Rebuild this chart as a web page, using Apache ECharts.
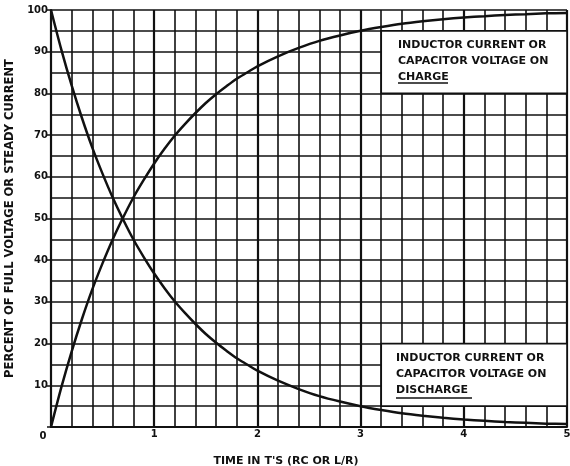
<!DOCTYPE html>
<html><head><meta charset="utf-8">
<script src="https://cdn.jsdelivr.net/npm/echarts@6/dist/echarts.min.js"></script>
<style>html,body{margin:0;padding:0;background:#fff}#c{width:570px;height:466px}</style>
</head><body><div id="c"></div>
<script>
const timeValues = [0,0.1,0.2,0.3,0.4,0.5,0.6,0.7,0.8,0.9,1.0,1.1,1.2,1.3,1.4,1.5,1.6,1.7,1.8,1.9,2.0,2.2,2.4,2.6,2.8,3.0,3.2,3.4,3.6,3.8,4.0,4.2,4.4,4.6,4.8,5.0];
const chargeValues = [0,9.5,18.1,25.9,33.0,39.3,45.1,50.3,55.1,59.3,63.2,66.7,69.9,72.7,75.3,77.7,79.8,81.7,83.5,85.0,86.5,88.9,90.9,92.6,93.9,95.0,95.9,96.7,97.3,97.8,98.2,98.5,98.8,99.0,99.2,99.3];
const dischargeValues = [100,90.5,81.9,74.1,67.0,60.7,54.9,49.7,44.9,40.7,36.8,33.3,30.1,27.3,24.7,22.3,20.2,18.3,16.5,15.0,13.5,11.1,9.1,7.4,6.1,5.0,4.1,3.3,2.7,2.2,1.8,1.5,1.2,1.0,0.8,0.7];
const xTickLabels = ['0','1','2','3','4','5'];
const yTickLabels = ['','10','20','30','40','50','60','70','80','90','100'];
const chargeLabel = ['INDUCTOR CURRENT OR','CAPACITOR VOLTAGE ON','CHARGE'];
const dischargeLabel = ['INDUCTOR CURRENT OR','CAPACITOR VOLTAGE ON','DISCHARGE'];
const xName = "TIME IN T'S (RC OR L/R)";
const yName = 'PERCENT OF FULL VOLTAGE OR STEADY CURRENT';

const FONT = 'DejaVu Sans';
const INK = '#111';
const chart = echarts.init(document.getElementById('c'), null, {renderer:'canvas'});
const pair = (vals) => timeValues.map((t,i) => [t, vals[i]]);
const gridLine = {show:true, lineStyle:{color:INK, width:1.6}};
chart.setOption({
  animation:false,
  backgroundColor:'#fff',
  grid:{left:51, right:3, top:10, bottom:39, containLabel:false, outerBoundsMode:'none'},
  xAxis:{
    type:'value', min:0, max:5, interval:1,
    name:xName, nameLocation:'middle', nameGap:29,
    nameTextStyle:{fontFamily:FONT, fontWeight:'bold', fontSize:11, color:INK, padding:[0,46,0,0]},
    axisLine:{show:true, lineStyle:{color:INK, width:2}},
    axisTick:{show:false},
    axisLabel:{margin:2, fontFamily:FONT, fontWeight:'bold', fontSize:10, color:INK,
      formatter:(v)=>{const s = xTickLabels[Math.round(v)]; return v===0 ? '{z|'+s+'}' : s;},
      rich:{z:{fontFamily:FONT, fontWeight:'bold', fontSize:10, color:INK, padding:[2,16,0,0]}}},
    splitLine:{show:true, lineStyle:{color:INK, width:2.2}},
    minorTick:{show:false, splitNumber:5},
    minorSplitLine:gridLine
  },
  yAxis:{
    type:'value', min:0, max:100, interval:10,
    name:yName, nameLocation:'middle', nameGap:33,
    nameTextStyle:{fontFamily:FONT, fontWeight:'bold', fontSize:11.5, color:INK},
    axisLine:{show:true, lineStyle:{color:INK, width:2}},
    axisTick:{show:true, length:4, lineStyle:{color:INK, width:1.5}},
    axisLabel:{margin:3, fontFamily:FONT, fontWeight:'bold', fontSize:10, color:INK,
      formatter:(v)=>yTickLabels[Math.round(v/10)]},
    splitLine:gridLine,
    minorTick:{show:false, splitNumber:2},
    minorSplitLine:gridLine
  },
  series:[
    {type:'line', name:'charge', data:pair(chargeValues), smooth:0.3, symbol:'none',
     lineStyle:{color:INK, width:2.5}, z:5,
     markArea:{silent:true, itemStyle:{color:'#fff', borderColor:INK, borderWidth:1.6, opacity:1},
       data:[[{xAxis:3.2, yAxis:95},{xAxis:5, yAxis:80}]]}},
    {type:'line', name:'discharge', data:pair(dischargeValues), smooth:0.3, symbol:'none',
     lineStyle:{color:INK, width:2.5}, z:5,
     markArea:{silent:true, itemStyle:{color:'#fff', borderColor:INK, borderWidth:1.6, opacity:1},
       data:[[{xAxis:3.2, yAxis:20},{xAxis:5, yAxis:5}]]}}
  ],
  graphic:[
    {type:'text', left:398, top:37, z:100, style:{text:chargeLabel.join('\n'), font:'bold 11px "DejaVu Sans"', fill:INK, lineHeight:16}},
    {type:'line', z:100, shape:{x1:398, y1:83, x2:448, y2:83}, style:{stroke:INK, lineWidth:1.5}},
    {type:'text', left:396, top:350, z:100, style:{text:dischargeLabel.join('\n'), font:'bold 11px "DejaVu Sans"', fill:INK, lineHeight:16}},
    {type:'line', z:100, shape:{x1:396, y1:398, x2:472, y2:398}, style:{stroke:INK, lineWidth:1.5}}
  ]
});
</script></body></html>
